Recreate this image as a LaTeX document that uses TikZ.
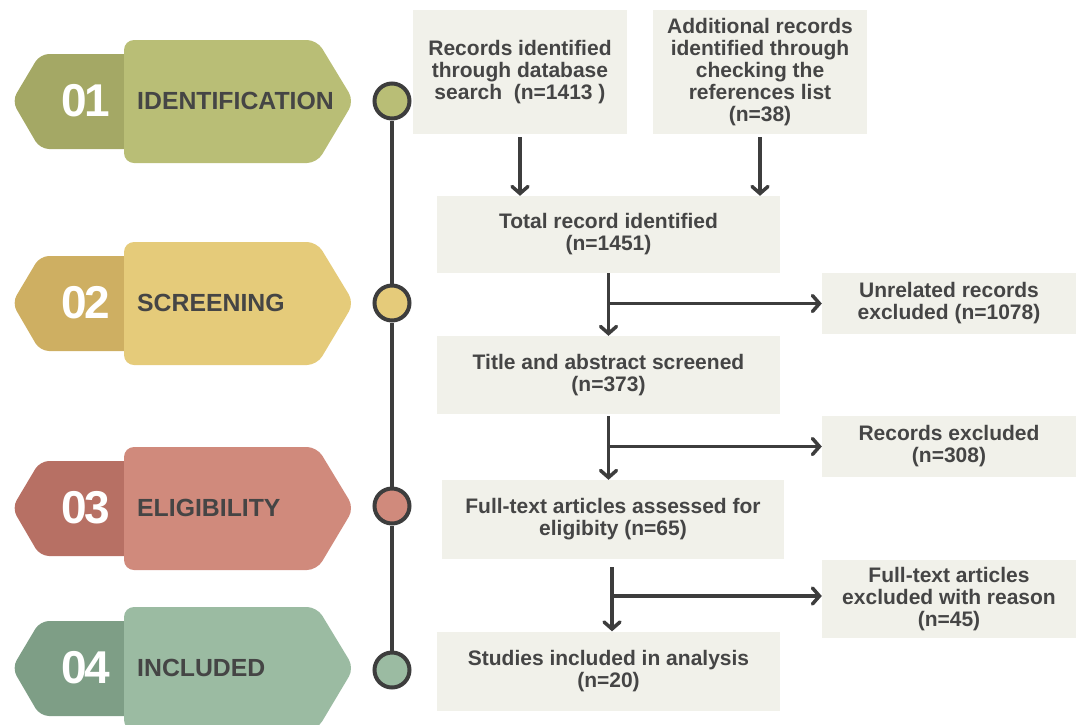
\documentclass[tikz,border=0pt]{standalone}
\usepackage{fontspec}
\setmainfont{Liberation Sans}
\usetikzlibrary{arrows.meta}

\definecolor{oliveL}{HTML}{B9BE76}
\definecolor{oliveD}{HTML}{A4A865}
\definecolor{sandL}{HTML}{E5CB7A}
\definecolor{sandD}{HTML}{CEAF62}
\definecolor{roseL}{HTML}{D08A7C}
\definecolor{roseD}{HTML}{B77064}
\definecolor{sageL}{HTML}{9BBBA2}
\definecolor{sageD}{HTML}{7E9E86}
\definecolor{boxfill}{HTML}{F1F1EA}
\definecolor{inktext}{HTML}{454545}
\definecolor{inkline}{HTML}{3D3D3D}

% one stage tab on the left: name, centre y, dark colour, light colour, digits, label
\newcommand{\stagebadge}[7]{%
  \fill[#3, rounded corners=9pt]
    (135,#2-47) -- (40,#2-47) -- (12,#2) -- (40,#2+48) -- (135,#2+48) -- cycle;
  \fill[#4, rounded corners=10pt]
    (124,#2-61) -- (317,#2-61) -- (354,#2) -- (317,#2+62) -- (124,#2+62) -- cycle;
  \node[numtext] (#1num) at (110,#2) {#5\kern-2.5pt#6};
  \node[stagetext] (#1lab) at (137,#2) {#7};
}

\begin{document}
\begin{tikzpicture}[x=1pt, y=-1pt,
  numtext/.style={anchor=east, inner sep=0pt, text=white,
    font=\fontsize{46}{46}\selectfont\bfseries},
  stagetext/.style={anchor=west, inner sep=0pt, text=inktext,
    font=\fontsize{24.8}{26}\selectfont\bfseries},
  dot/.style={circle, draw=inkline, line width=4pt, minimum size=35pt, inner sep=0pt},
  flowbox/.style={fill=boxfill, draw=none, align=center, text=inktext, inner sep=0pt,
    font=\fontsize{21}{22}\selectfont\bfseries},
  flow/.style={draw=inkline, line width=3.5pt,
    -{Straight Barb[length=7pt, width=16pt, line cap=round]}},
  trunk/.style={draw=inkline, line width=4pt},
]
\useasboundingbox (0,0) rectangle (1076,724);

% stage tabs
\stagebadge{s1}{101}{oliveD}{oliveL}{0}{1}{IDENTIFICATION}
\stagebadge{s2}{303}{sandD}{sandL}{0}{2}{SCREENING}
\stagebadge{s3}{508}{roseD}{roseL}{0}{3}{ELIGIBILITY}
\stagebadge{s4}{668}{sageD}{sageL}{0}{4}{INCLUDED}

% timeline with stage dots
\node[dot, fill=oliveL] (d1) at (392,101) {};
\node[dot, fill=sandL]  (d2) at (392,303) {};
\node[dot, fill=roseL]  (d3) at (392,506) {};
\node[dot, fill=sageL]  (d4) at (392,670) {};
\draw[trunk] (d1) -- (d2);
\draw[trunk] (d2) -- (d3);
\draw[trunk] (d3) -- (d4);

% flow boxes
\node[flowbox, minimum width=214pt, minimum height=124pt] (b1) at (520,72)
  {Records identified\\through database\\search\ \ (n=1413 )};
\node[flowbox, minimum width=214pt, minimum height=124pt] (b2) at (760,72)
  {Additional records\\identified through\\checking the\\references list\\(n=38)};
\node[flowbox, minimum width=343pt, minimum height=77pt] (b3) at (608.5,234.5)
  {Total record identified\\(n=1451)};
\node[flowbox, minimum width=254pt, minimum height=61pt] (b4) at (949,303.5)
  {Unrelated records\\excluded (n=1078)};
\node[flowbox, minimum width=343pt, minimum height=78pt] (b5) at (608.5,375)
  {Title and abstract screened\\(n=373)};
\node[flowbox, minimum width=254pt, minimum height=61pt] (b6) at (949,446.5)
  {Records excluded\\(n=308)};
\node[flowbox, minimum width=342pt, minimum height=79pt] (b7) at (613,519.5)
  {Full-text articles assessed for\\eligibity (n=65)};
\node[flowbox, minimum width=254pt, minimum height=78pt] (b8) at (949,599)
  {Full-text articles\\excluded with reason\\(n=45)};
\node[flowbox, minimum width=343pt, minimum height=79pt] (b9) at (608.5,671)
  {Studies included in analysis\\(n=20)};

% connectors
\draw[flow] ([yshift=-3pt]b1.south) -- (b1.south |- b3.north);
\draw[flow] ([yshift=-3pt]b2.south) -- (b2.south |- b3.north);

\coordinate (j1) at (b3.south |- b4.west);
\draw[flow] (b3.south) -- (b5.north);
\draw[flow] (j1) -- (b4.west);

\coordinate (j2) at (b5.south |- b6.west);
\draw[flow] ([yshift=-2pt]b5.south) -- (b5.south |- b7.north);
\draw[flow] (j2) -- (b6.west);

\coordinate (j3) at (612,596);
\draw[flow] ([yshift=-8pt]b7.south -| j3) -- (b9.north -| j3);
\draw[flow] (j3) -- (b8.west |- j3);
\end{tikzpicture}
\end{document}
